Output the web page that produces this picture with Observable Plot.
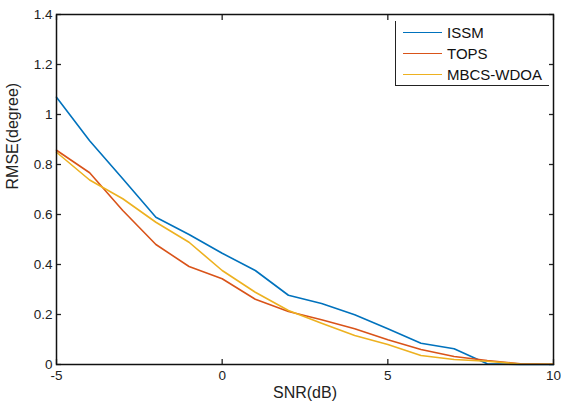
<!DOCTYPE html>
<html>
<head>
<meta charset="utf-8">
<script src="https://cdn.jsdelivr.net/npm/d3@7"></script>
<script src="https://cdn.jsdelivr.net/npm/@observablehq/plot@0.6"></script>
<style>
  html, body { margin: 0; padding: 0; background: #fff; }
  #wrap { position: relative; width: 561px; height: 410px; font-family: "Liberation Sans", Arial, sans-serif; }
  #legend { position: absolute; left: 395px; top: 21px; width: 154px; height: 65px;
    border-left: 1.3px solid #222; border-bottom: 1.3px solid #222; box-sizing: border-box; }
  .row { position: absolute; left: 7px; height: 18px; display: flex; align-items: center; font-size: 15px; color: #111; white-space: nowrap; }
  .sw { width: 39px; height: 0; border-top: 1.6px solid; margin-right: 5px; }
</style>
</head>
<body>
<div id="wrap"></div>
<script>
const snr = [-5, -4, -3, -2, -1, 0, 1, 2, 3, 4, 5, 6, 7, 8, 9, 10];
const issm = [1.069, 0.895, 0.743, 0.589, 0.52, 0.445, 0.376, 0.277, 0.244, 0.199, 0.143, 0.085, 0.063, 0.003, 0.0, 0.0];
const tops = [0.857, 0.767, 0.616, 0.48, 0.392, 0.343, 0.261, 0.212, 0.179, 0.143, 0.099, 0.06, 0.032, 0.016, 0.003, 0.001];
const mbcs = [0.849, 0.738, 0.663, 0.569, 0.489, 0.376, 0.289, 0.216, 0.165, 0.116, 0.08, 0.036, 0.02, 0.013, 0.002, 0.001];
const seriesNames = ["ISSM", "TOPS", "MBCS-WDOA"];
const seriesValues = [issm, tops, mbcs];
const colors = ["#0072BD", "#D95319", "#EDB120"];
const xTicks = [-5, 0, 5, 10];
const yTicks = [0, 0.2, 0.4, 0.6, 0.8, 1, 1.2, 1.4];
const xLabel = "SNR(dB)";
const yLabel = "RMSE(degree)";

const rows = [];
seriesNames.forEach((name, i) => snr.forEach((x, j) => rows.push({series: name, x, y: seriesValues[i][j]})));

const blank = () => "";
const chart = Plot.plot({
  width: 561,
  height: 410,
  marginLeft: 56,
  marginRight: 8,
  marginTop: 14,
  marginBottom: 46,
  style: {fontFamily: '"Liberation Sans", Arial, sans-serif', fontSize: "13.5px", color: "#222", background: "#fff"},
  x: {domain: [-5, 10]},
  y: {domain: [0, 1.4]},
  color: {domain: seriesNames, range: colors},
  marks: [
    Plot.axisX({anchor: "bottom", ticks: xTicks, tickSize: -5, tickFormat: blank, label: null, strokeWidth: 1.3}),
    Plot.axisX({anchor: "top", ticks: xTicks, tickSize: -5, tickFormat: blank, label: null, strokeWidth: 1.3}),
    Plot.axisY({anchor: "left", ticks: yTicks, tickSize: -5, tickFormat: blank, label: null, strokeWidth: 1.3}),
    Plot.axisY({anchor: "right", ticks: yTicks, tickSize: -5, tickFormat: blank, label: null, strokeWidth: 1.3}),
    Plot.axisX({anchor: "bottom", ticks: xTicks, tickSize: 0, tickPadding: 6, tickFormat: d => String(d), label: null, fill: "#222"}),
    Plot.axisY({anchor: "left", ticks: yTicks, tickSize: 0, tickPadding: 4, tickFormat: d => String(d), label: null, fill: "#222"}),
    Plot.line(rows, {x: "x", y: "y", z: "series", stroke: "series", strokeWidth: 1.6}),
    Plot.frame({stroke: "#111", strokeWidth: 1.5}),
    Plot.text([xLabel], {frameAnchor: "bottom", dy: 33, fontSize: 16, fill: "#222"}),
    Plot.text([yLabel], {frameAnchor: "left", dx: -44, rotate: -90, fontSize: 16, fill: "#222"})
  ]
});
const wrap = document.getElementById("wrap");
wrap.appendChild(chart);

const legend = document.createElement("div");
legend.id = "legend";
seriesNames.forEach((name, i) => {
  const r = document.createElement("div");
  r.className = "row";
  r.style.top = (2 + i * 21) + "px";
  const sw = document.createElement("span");
  sw.className = "sw";
  sw.style.borderTopColor = colors[i];
  const t = document.createElement("span");
  t.textContent = name;
  r.appendChild(sw);
  r.appendChild(t);
  legend.appendChild(r);
});
wrap.appendChild(legend);
</script>
</body>
</html>
